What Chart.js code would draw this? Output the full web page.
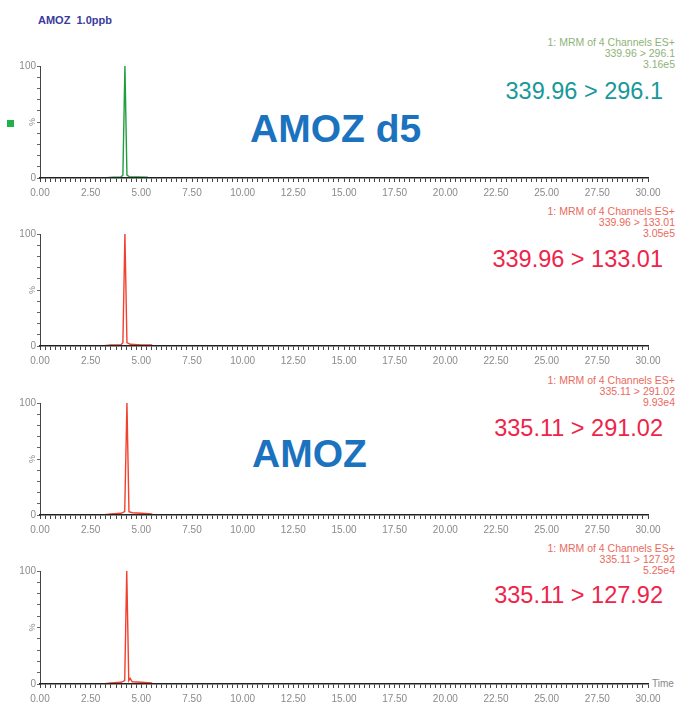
<!DOCTYPE html>
<html>
<head>
<meta charset="utf-8">
<script src="https://cdn.jsdelivr.net/npm/chart.js@4.4.1/dist/chart.umd.min.js"></script>
<style>
  html, body { margin: 0; padding: 0; background: #fff; }
  body { width: 683px; height: 715px; position: relative; overflow: hidden; font-family: "Liberation Sans", Arial, sans-serif; }
  canvas { position: absolute; left: 0; }
  .t { position: absolute; white-space: nowrap; line-height: 1; }
  .hdr { font-size: 10.5px; text-align: right; right: 8px; line-height: 11px; }
</style>
</head>
<body>
<div class="t" style="left:38px;top:15px;font-size:11px;font-weight:bold;color:#3b3b9c;">AMOZ&nbsp;&nbsp;1.0ppb</div>
<div style="position:absolute;left:7px;top:120px;width:7px;height:7px;background:#1fb14a;"></div>

<div class="t hdr" style="top:37px;color:#8fb27a;">1: MRM of 4 Channels ES+<br>339.96 &gt; 296.1<br>3.16e5</div>
<div class="t hdr" style="top:206px;color:#ea6a5e;">1: MRM of 4 Channels ES+<br>339.96 &gt; 133.01<br>3.05e5</div>
<div class="t hdr" style="top:375px;color:#ea6a5e;">1: MRM of 4 Channels ES+<br>335.11 &gt; 291.02<br>9.93e4</div>
<div class="t hdr" style="top:543px;color:#ea6a5e;">1: MRM of 4 Channels ES+<br>335.11 &gt; 127.92<br>5.25e4</div>

<div class="t" style="right:20px;top:80px;font-size:23.5px;color:#17989a;">339.96 &gt; 296.1</div>
<div class="t" style="right:20px;top:248px;font-size:23.5px;color:#ee2449;">339.96 &gt; 133.01</div>
<div class="t" style="right:20px;top:417px;font-size:23.5px;color:#ee2449;">335.11 &gt; 291.02</div>
<div class="t" style="right:20px;top:584px;font-size:23.5px;color:#ee2449;">335.11 &gt; 127.92</div>

<div class="t" style="left:250px;top:109px;font-size:39px;font-weight:bold;color:#1b72bf;">AMOZ d5</div>
<div class="t" style="left:252px;top:434px;font-size:39px;font-weight:bold;color:#1b72bf;">AMOZ</div>

<div class="t" style="left:652px;top:679px;font-size:10px;color:#888;">Time</div>

<canvas id="c1"></canvas>
<canvas id="c2"></canvas>
<canvas id="c3"></canvas>
<canvas id="c4"></canvas>

<script>
// ---- data (retention time in min, relative intensity in %) ----
const p1Time = [3.1, 3.6, 4.0, 4.09, 4.19, 4.29, 4.4, 4.8, 5.3, 5.35];
const p1Int  = [0, 0.8, 1.0, 2.5, 100, 2.5, 1.2, 1.0, 0.8, 0];

const p2Time = [3.05, 3.5, 4.0, 4.09, 4.19, 4.29, 4.45, 5.0, 5.5, 5.55];
const p2Int  = [0, 1.0, 1.2, 3.0, 100, 3.0, 1.5, 1.0, 1.0, 0];

const p3Time = [3.1, 3.5, 4.0, 4.18, 4.29, 4.39, 4.55, 5.0, 5.5, 5.55];
const p3Int  = [0, 1.0, 1.5, 3.0, 100, 3.0, 2.0, 1.5, 1.0, 0];

const p4Time = [3.1, 3.5, 4.0, 4.18, 4.28, 4.38, 4.45, 4.55, 5.0, 5.5, 5.55];
const p4Int  = [0, 1.0, 1.5, 3.0, 100, 3.0, 5.0, 2.0, 1.5, 1.0, 0];

const xMajorLabels = ['0.00','2.50','5.00','7.50','10.00','12.50','15.00','17.50','20.00','22.50','25.00','27.50','30.00'];
const yLabels = { 0: '0', 100: '100' };

// panel geometry (pixel rows of the 100 and 0 levels)
const panels = [
  { id: 'c1', t: p1Time, v: p1Int, color: '#1f9e3c', y100: 66,  y0: 178 },
  { id: 'c2', t: p2Time, v: p2Int, color: '#f2402e', y100: 234, y0: 346 },
  { id: 'c3', t: p3Time, v: p3Int, color: '#f2402e', y100: 403, y0: 515 },
  { id: 'c4', t: p4Time, v: p4Int, color: '#f2402e', y100: 571, y0: 684 },
];

const pctPlugin = {
  id: 'pct',
  afterDraw(chart) {
    const ctx = chart.ctx;
    const y = chart.scales.y.getPixelForValue(50);
    ctx.save();
    ctx.translate(33, y);
    ctx.rotate(-Math.PI / 2);
    ctx.font = '9px "Liberation Sans", Arial, sans-serif';
    ctx.fillStyle = '#888';
    ctx.textAlign = 'center';
    ctx.textBaseline = 'middle';
    ctx.fillText('%', 0, 0);
    ctx.restore();
  }
};

panels.forEach(p => {
  const cv = document.getElementById(p.id);
  const padTop = 11, xH = 24;
  const H = (p.y0 - p.y100) + padTop + xH;
  cv.width = 683; cv.height = H;
  cv.style.top = (p.y100 - padTop) + 'px';
  cv.style.width = '683px'; cv.style.height = H + 'px';
  new Chart(cv, {
    type: 'line',
    data: {
      datasets: [{
        data: p.t.map((x, i) => ({ x: x, y: p.v[i] })),
        borderColor: p.color,
        borderWidth: 1.4,
        pointRadius: 0,
        tension: 0,
        fill: false
      }]
    },
    options: {
      responsive: false,
      animation: false,
      devicePixelRatio: 1,
      layout: { padding: { top: padTop, right: 35, left: 0, bottom: 0 } },
      plugins: { legend: { display: false }, tooltip: { enabled: false } },
      scales: {
        x: {
          type: 'linear', min: 0, max: 30,
          afterFit: s => { s.height = xH; },
          border: { display: true, color: '#222', width: 1.5, z: 1 },
          grid: { display: true, drawOnChartArea: false, drawTicks: true, tickLength: 4, color: '#444', tickColor: '#444' },
          ticks: {
            stepSize: 0.25, autoSkip: false, maxRotation: 0, minRotation: 0, padding: 5,
            color: '#8a8a8a',
            font: { size: 10, family: '"Liberation Sans", Arial, sans-serif' },
            callback: v => {
              const k = Math.round(v / 2.5);
              return Math.abs(v - k * 2.5) < 1e-6 ? xMajorLabels[k] : '';
            }
          }
        },
        y: {
          type: 'linear', min: 0, max: 100,
          afterFit: s => { s.width = 40; },
          border: { display: true, color: '#444', width: 1 },
          grid: { display: true, drawOnChartArea: false, drawTicks: true, tickLength: 3, color: '#666', tickColor: '#666' },
          ticks: {
            stepSize: 10, autoSkip: false, padding: 1,
            color: '#8a8a8a',
            font: { size: 10, family: '"Liberation Sans", Arial, sans-serif' },
            callback: v => (yLabels[v] !== undefined ? yLabels[v] : '')
          }
        }
      }
    },
    plugins: [pctPlugin]
  });
});
</script>
</body>
</html>
